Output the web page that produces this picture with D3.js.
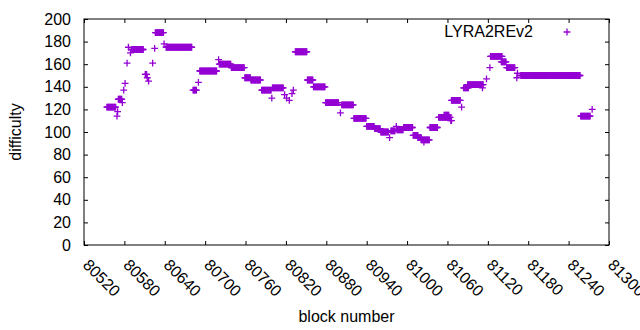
<!DOCTYPE html>
<html>
<head>
<meta charset="utf-8">
<script src="https://cdn.jsdelivr.net/npm/d3@7"></script>
<style>
    body { margin: 0; background: #fff; }
    text { font-family: "Liberation Sans", Arial, sans-serif; }
</style>
</head>
<body>
<div id="chart"></div>
<script>
// runs of blocks with the same difficulty: [first block, last block, difficulty]
const runs = [
    [80554, 80567, 122], [80569, 80569, 114], [80570, 80570, 118], [80571, 80576, 129],
    [80577, 80577, 126], [80579, 80579, 137], [80581, 80581, 143], [80584, 80584, 161],
    [80586, 80586, 175], [80589, 80589, 170], [80591, 80608, 173], [80611, 80613, 151],
    [80614, 80614, 148], [80616, 80616, 145], [80622, 80622, 161], [80625, 80625, 174],
    [80626, 80638, 188], [80639, 80639, 178], [80642, 80680, 175], [80682, 80687, 137],
    [80690, 80690, 144], [80692, 80717, 154], [80720, 80720, 164], [80721, 80738, 160],
    [80739, 80758, 157], [80759, 80767, 148], [80768, 80782, 146], [80784, 80798, 137],
    [80799, 80799, 130], [80800, 80816, 139], [80818, 80818, 133], [80821, 80821, 130],
    [80825, 80825, 128], [80829, 80829, 134], [80831, 80831, 137], [80834, 80851, 171],
    [80852, 80860, 146], [80861, 80878, 140], [80879, 80898, 126], [80901, 80901, 117],
    [80903, 80920, 124], [80921, 80939, 112], [80940, 80951, 105], [80952, 80960, 103],
    [80961, 80972, 100], [80974, 80974, 95], [80976, 80982, 101], [80984, 80984, 105],
    [80985, 80994, 102], [80995, 81008, 104], [81009, 81016, 97], [81016, 81021, 95],
    [81021, 81033, 93], [81025, 81025, 91], [81034, 81045, 104], [81047, 81064, 113],
    [81055, 81062, 115], [81065, 81066, 110], [81066, 81079, 128], [81081, 81081, 122],
    [81084, 81091, 139], [81090, 81113, 142], [81112, 81112, 139], [81118, 81118, 147],
    [81123, 81123, 157], [81124, 81141, 167], [81140, 81147, 162], [81148, 81160, 157],
    [81163, 81163, 148], [81164, 81164, 152], [81169, 81257, 150], [81258, 81272, 114],
    [81275, 81275, 120]
];
const xTicks = [80520, 80580, 80640, 80700, 80760, 80820, 80880, 80940, 81000, 81060, 81120, 81180, 81240, 81300];
const yTicks = [0, 20, 40, 60, 80, 100, 120, 140, 160, 180, 200];
const seriesName = "LYRA2REv2";

const W = 640, H = 330;
const margin = {top: 19, right: 31, bottom: 85, left: 84};
const width = W - margin.left - margin.right;
const height = H - margin.top - margin.bottom;
const color = "#9400d3";
const fontSize = "16px";

// one point per block
let points = [];
runs.forEach(r => {
    for (let b = r[0]; b <= r[1]; b++) points.push({block: b, value: r[2]});
});

const svg = d3.select("#chart").append("svg")
    .attr("width", W)
    .attr("height", H)
    .append("g")
    .attr("transform", `translate(${margin.left}, ${margin.top})`);

const x = d3.scaleLinear().domain([80520, 81300]).range([0, width]);
const y = d3.scaleLinear().domain([0, 200]).range([height, 0]);

// ticks on all four sides
svg.append("g")
    .attr("transform", `translate(0,${height})`)
    .call(d3.axisBottom(x).tickValues(xTicks).tickSize(-4).tickFormat(""));
svg.append("g")
    .call(d3.axisTop(x).tickValues(xTicks).tickSize(-4).tickFormat(""));
svg.append("g")
    .call(d3.axisLeft(y).tickValues(yTicks).tickSize(-4).tickPadding(13))
    .selectAll("text")
    .style("font-size", fontSize)
    .attr("fill", "#000");
svg.append("g")
    .attr("transform", `translate(${width},0)`)
    .call(d3.axisRight(y).tickValues(yTicks).tickSize(-4).tickFormat(""));
svg.selectAll(".domain").remove();
svg.selectAll(".tick line").attr("stroke", "#000");

svg.append("rect")
    .attr("width", width)
    .attr("height", height)
    .attr("fill", "none")
    .attr("stroke", "#000")
    .attr("stroke-width", 1);

// rotated x tick labels
svg.append("g").selectAll("text")
    .data(xTicks)
    .join("text")
    .attr("transform", d => `translate(${x(d) - 2},${height + 21}) rotate(45)`)
    .style("font-size", fontSize)
    .text(d => d);

const plus = "M-3.4,0H3.4M0,-3.4V3.4";
svg.append("g").selectAll("path")
    .data(points)
    .join("path")
    .attr("transform", d => `translate(${x(d.block)},${y(d.value)})`)
    .attr("d", plus)
    .attr("stroke", color)
    .attr("stroke-width", 1.3)
    .attr("fill", "none");

// legend
svg.append("text")
    .attr("x", 449)
    .attr("y", 18)
    .attr("text-anchor", "end")
    .style("font-size", fontSize)
    .text(seriesName);
svg.append("path")
    .attr("transform", `translate(483,13)`)
    .attr("d", plus)
    .attr("stroke", color)
    .attr("stroke-width", 1.3);

// axis titles
svg.append("text")
    .attr("transform", `translate(${-63},${height / 2}) rotate(-90)`)
    .attr("text-anchor", "middle")
    .style("font-size", fontSize)
    .text("difficulty");
svg.append("text")
    .attr("x", width / 2)
    .attr("y", height + 77)
    .attr("text-anchor", "middle")
    .style("font-size", fontSize)
    .text("block number");
</script>
</body>
</html>
